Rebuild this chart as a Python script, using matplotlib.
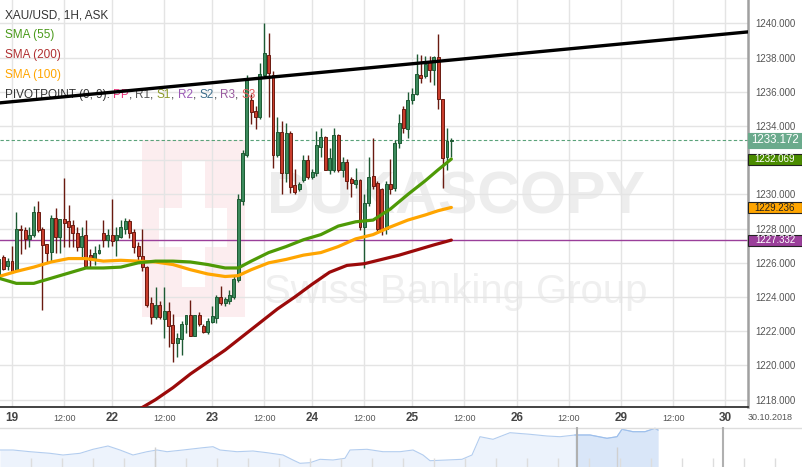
import matplotlib
matplotlib.use("Agg")
import matplotlib.pyplot as plt
from matplotlib.patches import Rectangle
import numpy as np

plt.rcParams['font.family'] = ['Liberation Sans', 'DejaVu Sans']

# ---------------- data ----------------
opens = [1225.2, 1226.35, 1225.8, 1226.1, 1225.5, 1228.0, 1227.9, 1227.4, 1227.6, 1229.0,
         1227.95, 1227.1, 1226.65, 1228.6, 1227.5, 1228.55, 1228.45, 1228.2, 1227.75, 1226.9,
         1227.6, 1226.45, 1226.15, 1226.6, 1227.75, 1227.35, 1227.6, 1227.35, 1227.5, 1228.0,
         1228.45, 1227.8, 1227.0, 1226.4, 1225.75, 1223.65, 1222.85, 1223.55, 1222.7, 1223.2,
         1222.35, 1221.3, 1221.55, 1222.4, 1222.95, 1221.7, 1222.95, 1222.3, 1221.95, 1222.55,
         1222.8, 1224.0, 1223.65, 1223.75, 1224.0, 1225.0, 1229.6, 1232.3, 1235.5, 1234.85,
         1234.5, 1237.0, 1238.15, 1237.0, 1232.3, 1233.65, 1231.25, 1233.6, 1230.55, 1230.3,
         1230.85, 1232.0, 1231.0, 1231.25, 1232.8, 1233.35, 1231.45, 1231.45, 1233.5, 1231.45,
         1231.9, 1230.9, 1230.6, 1230.85, 1228.1, 1229.5, 1231.05, 1230.65, 1230.3, 1228.0,
         1230.6, 1230.35, 1233.0, 1235.0, 1233.85, 1235.5, 1235.85, 1237.0, 1236.9, 1237.8,
         1237.3, 1238.05, 1235.6, 1232.2, 1233.1]
highs = [1226.4, 1226.45, 1226.3, 1227.0, 1229.0, 1228.2, 1228.1, 1228.1, 1229.3, 1229.6,
         1228.1, 1227.1, 1228.8, 1229.2, 1228.55, 1230.95, 1229.4, 1228.5, 1228.1, 1228.1,
         1228.5, 1226.8, 1227.0, 1227.1, 1228.5, 1228.0, 1229.75, 1228.1, 1228.5, 1228.6,
         1228.55, 1228.0, 1227.2, 1228.0, 1225.8, 1224.0, 1224.6, 1223.75, 1224.6, 1223.7,
         1223.0, 1221.9, 1222.6, 1222.95, 1223.85, 1222.95, 1223.1, 1222.4, 1222.8, 1223.5,
         1224.1, 1224.65, 1224.0, 1224.4, 1225.3, 1230.0, 1232.6, 1237.0, 1235.9, 1235.2,
         1237.7, 1240.0, 1239.45, 1237.2, 1234.5, 1234.3, 1234.2, 1233.7, 1231.5, 1230.7,
         1232.3, 1232.3, 1231.5, 1233.7, 1233.9, 1233.4, 1232.7, 1233.9, 1233.55, 1232.2,
         1232.1, 1231.0, 1231.55, 1230.9, 1230.0, 1232.2, 1233.3, 1230.8, 1230.4, 1230.8,
         1232.1, 1233.2, 1234.7, 1235.2, 1236.0, 1236.2, 1238.2, 1238.15, 1238.1, 1238.1,
         1238.1, 1239.4, 1235.6, 1233.9, 1233.3]
lows = [1224.9, 1225.6, 1225.6, 1225.4, 1225.5, 1226.5, 1226.8, 1226.9, 1227.5, 1227.8,
        1223.25, 1226.05, 1226.05, 1226.6, 1226.6, 1226.95, 1226.9, 1226.9, 1226.7, 1226.35,
        1225.8, 1225.7, 1225.9, 1226.5, 1226.9, 1226.95, 1227.0, 1226.4, 1227.45, 1227.7,
        1227.45, 1226.6, 1226.0, 1225.5, 1223.4, 1222.4, 1222.7, 1222.7, 1221.6, 1221.1,
        1220.2, 1220.5, 1220.6, 1221.9, 1221.7, 1221.7, 1222.3, 1221.9, 1221.85, 1222.5,
        1222.5, 1223.55, 1223.5, 1223.6, 1223.9, 1224.9, 1229.4, 1232.2, 1234.1, 1233.85,
        1234.4, 1236.8, 1234.5, 1231.55, 1232.2, 1230.0, 1230.7, 1230.1, 1230.0, 1230.2,
        1230.7, 1230.9, 1230.9, 1231.1, 1232.2, 1231.4, 1231.2, 1231.3, 1231.3, 1231.0,
        1230.3, 1229.85, 1230.4, 1227.9, 1225.7, 1229.3, 1230.3, 1227.8, 1227.6, 1227.7,
        1230.0, 1230.2, 1232.7, 1233.6, 1233.3, 1235.3, 1235.8, 1236.5, 1236.8, 1236.6,
        1236.4, 1235.0, 1230.4, 1231.4, 1232.2]
closes = [1226.2, 1225.65, 1226.1, 1225.5, 1228.0, 1227.9, 1227.4, 1227.6, 1229.0, 1227.9,
          1227.05, 1226.6, 1228.6, 1227.5, 1228.55, 1228.35, 1228.1, 1227.75, 1226.9, 1227.55,
          1225.8, 1226.15, 1226.6, 1226.75, 1227.35, 1227.6, 1227.3, 1227.65, 1228.1, 1228.45,
          1227.75, 1226.95, 1226.4, 1225.75, 1223.55, 1222.85, 1223.55, 1222.85, 1223.2, 1222.3,
          1221.3, 1221.6, 1222.4, 1222.95, 1221.7, 1222.95, 1222.4, 1221.95, 1222.6, 1222.9,
          1224.0, 1223.65, 1223.9, 1224.1, 1225.05, 1229.75, 1232.4, 1236.7, 1234.8, 1234.5,
          1237.05, 1238.25, 1237.1, 1232.3, 1233.65, 1231.25, 1233.6, 1230.45, 1230.15, 1230.6,
          1232.0, 1231.0, 1231.3, 1232.9, 1233.35, 1231.45, 1232.15, 1233.5, 1231.45, 1231.9,
          1230.8, 1230.65, 1230.85, 1228.1, 1229.5, 1231.0, 1230.5, 1228.0, 1227.9, 1230.6,
          1230.3, 1233.0, 1234.2, 1233.9, 1235.5, 1235.9, 1237.05, 1236.8, 1237.6, 1237.3,
          1238.05, 1235.6, 1232.15, 1233.1, 1233.17]

sma_idx = [0, 4, 8, 12, 16, 20, 24, 28, 32, 36, 40, 44, 48, 52, 55, 58, 62, 66, 70, 74,
           78, 82, 86, 90, 94, 98, 101, 104]
sma55 = [1225.1, 1224.8, 1224.8, 1225.1, 1225.4, 1225.7, 1225.7, 1225.75, 1226.0, 1226.1,
         1226.1, 1226.05, 1225.9, 1225.7, 1225.7, 1226.1, 1226.6, 1226.95, 1227.35, 1227.65,
         1228.15, 1228.4, 1228.5, 1229.15, 1230.0, 1230.8, 1231.45, 1232.07]
sma100 = [1225.2, 1225.5, 1225.75, 1226.05, 1226.25, 1226.25, 1226.1, 1226.15, 1226.1, 1226.05,
          1225.9, 1225.6, 1225.35, 1225.2, 1225.25, 1225.6, 1226.0, 1226.2, 1226.45, 1226.6,
          1226.95, 1227.4, 1227.65, 1228.1, 1228.5, 1228.8, 1229.05, 1229.24]
sma200_idx = [32, 36, 40, 44, 48, 52, 56, 60, 64, 68, 72, 76, 80, 84, 88, 92, 96, 100, 104]
sma200 = [1217.4, 1218.0, 1218.7, 1219.5, 1220.2, 1220.9, 1221.7, 1222.5, 1223.3, 1224.0,
          1224.75, 1225.45, 1225.85, 1225.95, 1226.2, 1226.45, 1226.75, 1227.05, 1227.33]

trend_idx = [0, 172]
trend_price = [1235.35, 1239.5]

last_price = 1233.172
sma55_last = 1232.069
sma100_last = 1229.236
pivot_level = 1227.332

day_ticks = [3, 26, 49, 72, 95, 119, 143, 167]
day_labels = ['19', '22', '23', '24', '25', '26', '29', '30']
noon_ticks = [15, 38, 61, 84, 107, 131, 155]
noon_labels = ['12:00'] * 7
price_ticks = [1218, 1220, 1222, 1224, 1226, 1228, 1230, 1232, 1234, 1236, 1238, 1240]
hidden_price_labels = [1232]   # covered by the SMA(55) price tag in the original

nav_x = [0, 13, 30, 50, 63, 80, 93, 108, 120, 133, 147, 157, 167, 183, 203, 213, 220, 237,
         253, 267, 283, 293, 300, 310, 320, 333, 345, 350, 367, 383, 400, 413, 423, 430, 447,
         462, 472, 480, 493, 510, 530, 547, 560, 575, 590, 607, 617, 622, 633, 645, 655, 658]
nav_h = [17, 17, 15.3, 13.7, 12, 13.7, 17.7, 21, 17, 12, 15.3, 17, 15.3, 17, 19.3, 20.3, 17,
         15.3, 16, 14.3, 12, 7, 3.7, 4.3, 7.7, 7, 8.7, 17, 17.7, 15.3, 15.3, 17, 12, 6.3, 7,
         7.7, 12, 30.3, 27.7, 34.3, 32.7, 31, 30.3, 32, 32, 28.7, 30.3, 37.7, 35.3, 35.3, 38.7, 37]

# ---------------- layout ----------------
W, H = 803, 467
PW, PH = 748, 407   # plot area in pixels (from top-left)
fig = plt.figure(figsize=(W / 100, H / 100), dpi=100)
fig.patch.set_facecolor('white')
ax = fig.add_axes([0, (H - PH) / H, PW / W, PH / H])
ax.set_facecolor('white')

px_per_candle = 4.35
x0 = (0 + 1.05) / px_per_candle
x1 = (PW + 1.05) / px_per_candle
ax.set_xlim(x0, x1)
ax.set_ylim(1217.57, 1241.37)


def pa(x, y):
    """pixel (from top-left of plot) -> axes fraction"""
    return x / PW, (PH - y) / PH


# watermark
wm_col = '#fcedef'
sq = Rectangle(pa(142, 317), 103 / PW, 177 / PH, transform=ax.transAxes,
               facecolor=wm_col, edgecolor='none', zorder=0.1)
ax.add_patch(sq)
for (xa, ya, w, h) in [(159, 247, 68, 39), (182, 287, 23, 127)]:
    ax.add_patch(Rectangle(pa(xa, ya), w / PW, h / PH, transform=ax.transAxes,
                           facecolor='white', edgecolor='none', zorder=0.15))

renderer = fig.canvas.get_renderer()
t1 = ax.text(*pa(456, 198), 'DUKASCOPY', transform=ax.transAxes, ha='center', va='center',
             fontsize=60, fontweight='bold', color='#ededed', zorder=0.2,
             family=['Liberation Sans Narrow', 'Liberation Sans', 'DejaVu Sans'])
w1 = t1.get_window_extent(renderer).width
t1.set_fontsize(60 * 378 / w1)
t2 = ax.text(*pa(456, 292), 'Swiss Banking Group', transform=ax.transAxes, ha='center',
             va='center', fontsize=30, color='#efefef', zorder=0.2)
w2 = t2.get_window_extent(renderer).width
t2.set_fontsize(30 * 383 / w2)

# grid
ax.set_yticks(price_ticks)
ax.set_yticklabels(['' if v in hidden_price_labels else f'{v:.3f}' for v in price_ticks])
ax.set_xticks(day_ticks)
ax.set_xticklabels(day_labels)
ax.set_xticks(noon_ticks, minor=True)
ax.set_xticklabels(noon_labels, minor=True)
ax.grid(True, which='major', color='#e4e4e4', lw=1, zorder=0.5)
ax.grid(True, which='minor', axis='x', color='#e4e4e4', lw=1, zorder=0.5)
ax.set_axisbelow(True)

ax.yaxis.tick_right()
ax.tick_params(axis='y', length=0, pad=5, labelsize=7, labelcolor='#555555')
ax.tick_params(axis='x', which='major', length=0, pad=3.5, labelsize=8.5, labelcolor='#444444')
ax.tick_params(axis='x', which='minor', length=0, pad=5, labelsize=6.5, labelcolor='#555555')
for lab in ax.get_xticklabels(which='major'):
    lab.set_fontweight('bold')

for s in ['left', 'top']:
    ax.spines[s].set_visible(False)
ax.spines['right'].set_color('#a0a0a0')
ax.spines['right'].set_linewidth(1.8)
ax.spines['bottom'].set_color('#222222')
ax.spines['bottom'].set_linewidth(1.2)

# horizontal reference lines
ax.axhline(last_price, color='#5aa27a', lw=0.8, ls=(0, (3, 2)), zorder=2)
ax.axhline(pivot_level, color='#9a3f9a', lw=1.0, zorder=2)

# candles
for i, (o, h, l, c) in enumerate(zip(opens, highs, lows, closes)):
    up = c >= o
    body = '#3b8a5c' if up else '#c93d2c'
    edge = '#1d5a33' if up else '#6a1a10'
    ax.vlines(i, l, h, color=edge, lw=1.0, zorder=3)
    ax.add_patch(Rectangle((i - 0.34, min(o, c)), 0.68, max(abs(c - o), 0.06),
                           facecolor=body, edgecolor=edge, lw=0.7, zorder=3.1))

# moving averages
ax.plot(sma200_idx, sma200, color='#9b0a0a', lw=2.3, zorder=4, solid_capstyle='round')
ax.plot(sma_idx, sma100, color='#ffa500', lw=2.3, zorder=4, solid_capstyle='round')
ax.plot(sma_idx, sma55, color='#4e9a06', lw=2.3, zorder=4.1, solid_capstyle='round')

# trend line
ax.plot(trend_idx, trend_price, color='black', lw=2.4, zorder=6)

# legend texts (below trend line)
leg = [('XAU/USD, 1H, ASK', '#333333', 15),
       ('SMA (55)', '#4a9a1a', 35),
       ('SMA (200)', '#b03030', 55),
       ('SMA (100)', '#ffa500', 75)]
for txt, col, yy in leg:
    ax.text(*pa(5, yy), txt, transform=ax.transAxes, fontsize=8.5, color=col,
            va='center', ha='left', zorder=5)
pieces = [('PIVOTPOINT (0, 9): ', '#333333'), ('PP', '#e8337a'), (', ', '#333333'),
          ('R1', '#555555'), (', ', '#333333'), ('S1', '#8c9a2a'), (', ', '#333333'),
          ('R2', '#9b59b6'), (', ', '#333333'), ('S2', '#3d6e8c'), (', ', '#333333'),
          ('R3', '#9a5aa0'), (', ', '#333333'), ('S3', '#e05a5a')]
xp = 5.0
for txt, col in pieces:
    t = ax.text(*pa(xp, 95), txt, transform=ax.transAxes, fontsize=8.5, color=col,
                va='center', ha='left', zorder=5)
    xp += t.get_window_extent(renderer).width

# price tags on the right axis
def tag(value, text, fc, tc, fs, hpx, ec):
    yfig = ax.transData.transform((0, value))[1]
    rect = Rectangle((PW / W, (yfig - hpx / 2) / H), 54 / W, hpx / H, transform=fig.transFigure,
                     facecolor=fc, edgecolor=ec, lw=0.8, zorder=10)
    fig.add_artist(rect)
    fig.text((PW + 27) / W, yfig / H, text, ha='center', va='center', fontsize=fs,
             color=tc, zorder=11)

tag(last_price, f'{last_price:.3f}', '#6aaa8c', 'white', 8.3, 15, '#6aaa8c')
tag(sma55_last, f'{sma55_last:.3f}', '#4b8c00', 'white', 7, 11, '#222222')
tag(sma100_last, f'{sma100_last:.3f}', '#ffa500', '#222222', 7, 11, '#222222')
tag(pivot_level, f'{pivot_level:.3f}', '#9a3f9a', 'white', 7, 11, '#222222')

fig.text(770 / W, (H - 418) / H, '30.10.2018', ha='center', va='center', fontsize=6.5,
         color='#555555')

# navigator
axn = fig.add_axes([0, 0, 1, 40 / H])
axn.set_xlim(0, W)
axn.set_ylim(0, 40)
axn.axis('off')
nx = np.array(nav_x, dtype=float)
nh = np.array(nav_h, dtype=float)
axn.fill_between(nx, 0, nh, color='#edf3fc', lw=0)
axn.plot(nx, nh, color='#b3cdef', lw=0.8)
sel = nx >= 575
axn.fill_between(nx[sel], 0, nh[sel], color='#d9e6f8', lw=0)
axn.plot(nx[sel], nh[sel], color='#9dbfec', lw=0.8)
axn.axhline(39.5, color='#dddddd', lw=1)
for k in range(1, 27):
    xv = 31.0 * k
    axn.vlines(xv, 0, 9, color='#dddddd', lw=1)
axn.vlines([155, 617], 0, 20, color='#d0d0d0', lw=1)
axn.vlines([577, 723], 0, 40, color='#b0b0b0', lw=1.5)

fig.savefig('out.png', dpi=100)
